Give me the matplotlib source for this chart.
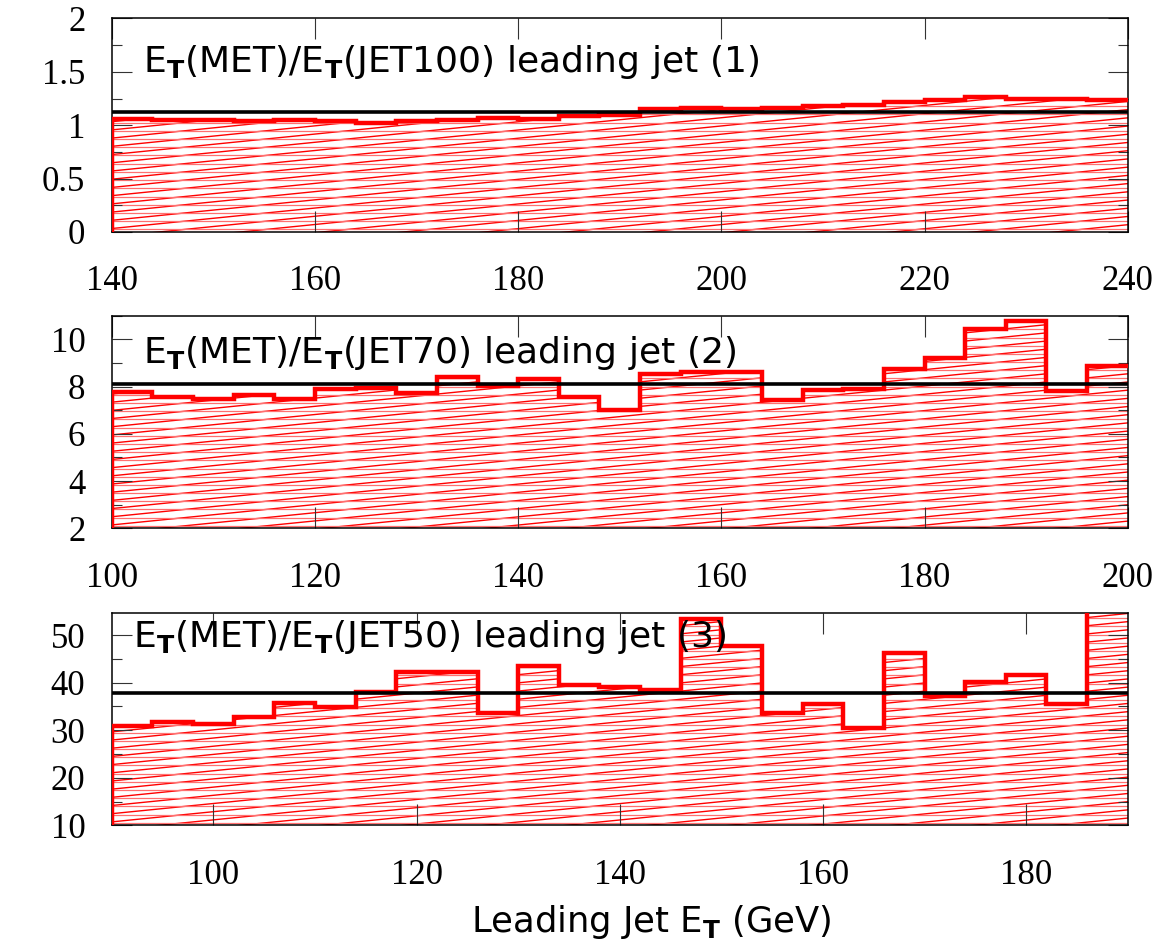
import numpy as np
import matplotlib
matplotlib.use("Agg")
import matplotlib.pyplot as plt
from matplotlib.patches import Polygon
from matplotlib.ticker import MultipleLocator, FuncFormatter

plt.rcParams['mathtext.fontset'] = 'dejavusans'

# ratio histograms, 4 GeV bins
edges1 = np.arange(140, 241, 4)
vals1 = [1.06, 1.05, 1.05, 1.04, 1.05, 1.04, 1.025, 1.04, 1.05, 1.07, 1.055, 1.09, 1.10,
         1.15, 1.165, 1.155, 1.165, 1.18, 1.19, 1.22, 1.235, 1.265, 1.245, 1.25, 1.24]
mean1 = 1.12

edges2 = np.arange(100, 201, 4)
vals2 = [7.78, 7.54, 7.47, 7.64, 7.46, 7.92, 7.96, 7.71, 8.41, 8.02, 8.31, 7.57, 7.0,
         8.52, 8.6, 8.6, 7.43, 7.85, 7.88, 8.73, 9.22, 10.44, 10.77, 7.82, 8.86]
mean2 = 8.1

edges3 = np.arange(90, 191, 4)
vals3 = [30.9, 31.7, 31.3, 32.7, 35.7, 34.8, 38.1, 42.2, 42.2, 33.6, 43.6, 39.4, 39.0,
         38.5, 53.3, 47.6, 33.6, 35.5, 30.4, 46.3, 37.1, 40.2, 41.6, 35.5, 62.0]
mean3 = 37.9

labels = [r'E$_{\mathbf{T}}$(MET)/E$_{\mathbf{T}}$(JET100) leading jet (1)',
          r'E$_{\mathbf{T}}$(MET)/E$_{\mathbf{T}}$(JET70) leading jet (2)',
          r'E$_{\mathbf{T}}$(MET)/E$_{\mathbf{T}}$(JET50) leading jet (3)']

panels = [
    dict(edges=edges1, vals=vals1, mean=mean1, ylim=(0, 2), ymaj=0.5, ymin=0.25,
         pos=[0.0955, 0.7548, 0.8684, 0.2257], txt=(0.031, 0.749)),
    dict(edges=edges2, vals=vals2, mean=mean2, ylim=(2, 11), ymaj=2, ymin=1,
         pos=[0.0955, 0.4415, 0.8684, 0.2247], txt=(0.031, 0.778)),
    dict(edges=edges3, vals=vals3, mean=mean3, ylim=(10, 54.7), ymaj=10, ymin=5,
         pos=[0.0955, 0.1276, 0.8684, 0.2247], txt=(0.021, 0.838)),
]

fig = plt.figure(figsize=(11.7, 9.46), dpi=100)

for p, lab in zip(panels, labels):
    ax = fig.add_axes(p['pos'])
    e = np.asarray(p['edges'], dtype=float)
    v = np.asarray(p['vals'], dtype=float)
    lo = p['ylim'][0]

    # outline: up from the baseline at the left edge, then the steps
    xs = np.concatenate([[e[0]], np.repeat(e, 2)[1:-1]])
    ys = np.concatenate([[lo], np.repeat(v, 2)])
    xs = np.append(xs, e[-1])
    ys = np.append(ys, v[-1])

    # hatched area, clipped to the histogram shape and to the frame
    poly = Polygon(np.column_stack([np.concatenate([xs, [e[-1]]]),
                                    np.concatenate([ys, [lo]])]),
                   closed=True, fill=False, edgecolor='none')
    ax.add_patch(poly)
    for y0 in np.arange(-0.6, 1.05, 0.0385):
        l, = ax.plot([0, 1], [y0, y0 + 0.48], transform=ax.transAxes, color='red',
                     lw=1.0, clip_path=poly, zorder=1)
        l.set_clip_box(ax.bbox)
    for y0 in np.arange(0.012, 1.0, 0.0385):
        l, = ax.plot([0, 1], [y0, y0], transform=ax.transAxes, color='#ff7070',
                     lw=0.9, clip_path=poly, zorder=1)
        l.set_clip_box(ax.bbox)

    ax.plot(xs, ys, color='red', lw=3.2, solid_joinstyle='miter', zorder=3)
    ax.axhline(p['mean'], color='black', lw=2.6, zorder=4)

    ax.set_xlim(e[0], e[-1])
    ax.set_ylim(*p['ylim'])

    ax.xaxis.set_major_locator(MultipleLocator(20))
    ax.yaxis.set_major_locator(MultipleLocator(p['ymaj']))
    ax.yaxis.set_minor_locator(MultipleLocator(p['ymin']))
    ax.yaxis.set_major_formatter(FuncFormatter(lambda t, _: '{:g}'.format(t)))
    ax.tick_params(which='both', direction='in', top=True, right=True,
                   color='#333333', width=0.8)
    ax.tick_params(axis='x', which='major', length=15, pad=24)
    ax.tick_params(axis='y', which='major', length=14.4, pad=19)
    ax.tick_params(axis='y', which='minor', length=7.2)
    for t in ax.get_xticklabels() + ax.get_yticklabels():
        t.set_fontfamily('Liberation Serif')
        t.set_fontsize(25)
    for s in ax.spines.values():
        s.set_linewidth(1.1)

    ax.text(p['txt'][0], p['txt'][1], lab, transform=ax.transAxes,
            fontsize=26, family='DejaVu Sans', va='baseline', ha='left', zorder=10)

fig.text(651 / 1170, 0.0148, r'Leading Jet E$_{\mathbf{T}}$ (GeV)', fontsize=25.5,
         family='DejaVu Sans', ha='center', va='baseline')

fig.savefig('out.png', dpi=100)
